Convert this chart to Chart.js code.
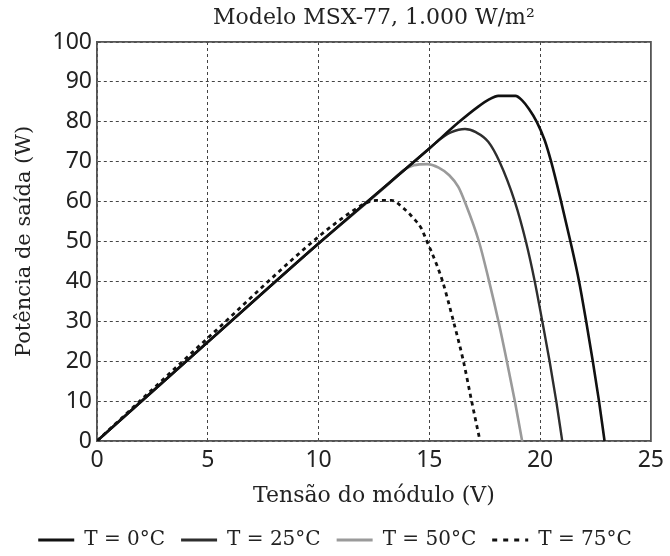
<!DOCTYPE html>
<html><head><meta charset="utf-8">
<script src="https://cdn.jsdelivr.net/npm/chart.js@4"></script>
<style>html,body{margin:0;padding:0;background:#fff}</style>
</head><body>
<canvas id="c" width="670" height="556"></canvas>
<script>
const chartTitle = 'Modelo MSX-77, 1.000 W/m²';
const xTitle = 'Tensão do módulo (V)';
const yTitle = 'Potência de saída (W)';
const seriesLabels = ['T = 0°C', 'T = 25°C', 'T = 50°C', 'T = 75°C'];
const xTicks = [0, 5, 10, 15, 20, 25];
const yTicks = [0, 10, 20, 30, 40, 50, 60, 70, 80, 90, 100];

// T = 0 °C
const v0 = [0, 5, 10, 15, 16.31, 17.21, 17.7, 18.11, 18.89, 19.2, 19.5, 19.85, 20.2, 20.5, 20.95, 21.37, 21.76, 22.08, 22.38, 22.66, 22.91];
const p0 = [0, 24.8, 49.5, 73.3, 79.8, 83.8, 85.6, 86.5, 86.5, 85.3, 83.2, 80, 75.5, 70, 60, 50, 40, 30, 20, 10, 0];
// T = 25 °C
const v25 = [0, 5, 10, 15, 15.5, 16.0, 16.61, 17.1, 17.66, 18.17, 18.86, 19.36, 19.76, 20.1, 20.43, 20.73, 21.0];
const p25 = [0, 24.8, 49.5, 73.3, 75.7, 77.4, 78.2, 77.4, 75, 70, 60, 50, 40, 30, 20, 10, 0];
// T = 50 °C
const v50 = [0, 5, 10, 13.2, 13.8, 14.3, 14.9, 15.42, 15.9, 16.31, 16.6, 17.24, 17.7, 18.12, 18.5, 18.86, 19.19];
const p50 = [0, 24.8, 49.5, 64.6, 67.7, 69.1, 69.4, 68.5, 66.6, 63.7, 60, 50, 40, 30, 20, 10, 0];
// T = 75 °C
const v75 = [0, 5, 10, 11.5, 12.2, 12.6, 13.3, 13.84, 14.29, 14.64, 14.85, 15.34, 15.6, 16.09, 16.54, 16.91, 17.29];
const p75 = [0, 25.8, 51.2, 57.5, 59.8, 60.3, 60.3, 58.3, 55.8, 53.3, 50.6, 44.1, 40, 30, 20, 10, 0];

const pts = (vs, ps) => vs.map((v, i) => ({x: v, y: ps[i]}));
const serif = 'DejaVu Serif';
const sans = 'Noto Sans';
const txt = '#222';

new Chart(document.getElementById('c'), {
  type: 'line',
  data: {
    datasets: [
      {label: seriesLabels[0], data: pts(v0, p0), borderColor: '#111', borderWidth: 2.6, order: 2},
      {label: seriesLabels[1], data: pts(v25, p25), borderColor: '#2e2e2e', borderWidth: 2.4, order: 3},
      {label: seriesLabels[2], data: pts(v50, p50), borderColor: '#9a9a9a', borderWidth: 2.6, order: 4},
      {label: seriesLabels[3], data: pts(v75, p75), borderColor: '#111', borderWidth: 2.8, borderDash: [4, 4], order: 1}
    ].map(d => Object.assign({pointRadius: 0, pointStyle: 'line', fill: false, cubicInterpolationMode: 'monotone'}, d))
  },
  options: {
    responsive: false,
    animation: false,
    layout: {padding: 0},
    plugins: {
      tooltip: {enabled: false},
      title: {display: false},
      legend: {
        position: 'bottom',
        maxHeight: 42,
        labels: {
          usePointStyle: true,
          pointStyleWidth: 36,
          padding: 16,
          color: txt,
          font: {family: serif, size: 20},
          generateLabels: chart => chart.data.datasets.map((ds, i) => ({
            text: ds.label,
            datasetIndex: i,
            strokeStyle: ds.borderColor,
            fillStyle: ds.borderColor,
            fontColor: txt,
            lineWidth: 3.2,
            lineDash: ds.borderDash ? [5, 6] : [],
            pointStyle: 'line',
            hidden: false
          }))
        }
      }
    },
    scales: {
      x: {
        type: 'linear', position: 'bottom', min: 0, max: 25,
        afterBuildTicks: s => { s.ticks = xTicks.map(v => ({value: v})); },
        afterFit: s => { s.height = 73; },
        grid: {color: '#444', lineWidth: 1, drawTicks: false},
        border: {display: true, color: '#555', width: 1.8, dash: [3, 3]},
        ticks: {color: txt, font: {family: sans, size: 23}, padding: 6, maxRotation: 0},
        title: {display: true, text: xTitle, color: txt, font: {family: serif, size: 22}, padding: {top: 0, bottom: 5}}
      },
      y: {
        type: 'linear', position: 'left', min: 0, max: 100,
        afterBuildTicks: s => { s.ticks = yTicks.map(v => ({value: v})); },
        afterFit: s => { s.width = 97; },
        grid: {color: '#444', lineWidth: 1, drawTicks: false},
        border: {display: true, color: '#555', width: 1.8, dash: [3, 3]},
        ticks: {color: txt, font: {family: sans, size: 23}, padding: 5},
        title: {display: true, text: yTitle, color: txt, font: {family: serif, size: 21}, padding: {top: 12, bottom: 0}}
      },
      x2: {
        type: 'linear', position: 'top', min: 0, max: 25, display: true,
        afterFit: s => { s.height = 42; },
        grid: {display: false, drawTicks: false},
        border: {display: true, color: '#555', width: 1.8},
        ticks: {display: false},
        title: {display: true, text: chartTitle, color: txt, font: {family: serif, size: 22}, padding: {top: 5, bottom: 0}}
      },
      y2: {
        type: 'linear', position: 'right', min: 0, max: 100, display: true,
        afterFit: s => { s.width = 16; },
        grid: {display: false, drawTicks: false},
        border: {display: true, color: '#555', width: 1.8},
        ticks: {display: false}
      }
    }
  }
});
</script>
</body></html>
